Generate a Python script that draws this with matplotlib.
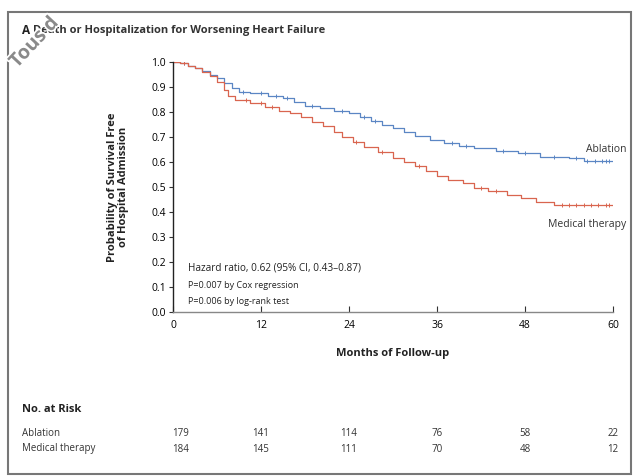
import matplotlib
matplotlib.use("Agg")
import matplotlib.pyplot as plt
import matplotlib.patheffects as pe
from matplotlib.patches import Rectangle
import numpy as np

plt.rcParams['font.family'] = ['Open Sans', 'DejaVu Sans']

# Kaplan-Meier step data (months, probability)
abl_t = [0, 1, 2, 3, 4, 5, 6, 7, 8, 9, 10.5, 13, 15, 16.5, 18, 20, 22, 24, 25.5, 27,
         28.5, 30, 31.5, 33, 35, 37, 39, 41, 44, 47, 50, 54, 56, 60]
abl_s = [1.0, 0.995, 0.985, 0.975, 0.965, 0.95, 0.935, 0.915, 0.895, 0.88, 0.875, 0.865,
         0.855, 0.84, 0.825, 0.815, 0.805, 0.795, 0.78, 0.765, 0.75, 0.735, 0.72, 0.705,
         0.69, 0.675, 0.665, 0.655, 0.645, 0.635, 0.62, 0.615, 0.605, 0.605]
med_t = [0, 1, 2, 3, 4, 5, 6, 7, 7.5, 8.5, 10.5, 12.5, 14.5, 16, 17.5, 19, 20.5, 22, 23,
         24.5, 26, 28, 30, 31.5, 33, 34.5, 36, 37.5, 39.5, 41, 43, 45.5, 47.5, 49.5, 52, 60]
med_s = [1.0, 0.995, 0.985, 0.975, 0.96, 0.945, 0.92, 0.89, 0.865, 0.85, 0.835, 0.82,
         0.805, 0.795, 0.78, 0.76, 0.745, 0.72, 0.70, 0.68, 0.66, 0.64, 0.615, 0.60, 0.585,
         0.565, 0.545, 0.53, 0.515, 0.495, 0.485, 0.47, 0.455, 0.44, 0.43, 0.43]

# censoring marks (months)
abl_cens = [1.5, 9.5, 12, 14, 15.5, 19, 23, 26, 27.5, 38, 40, 45, 48, 52, 55, 56.5, 57.5, 58.5, 59, 59.5]
med_cens = [1.5, 10, 12, 13.5, 25, 28.5, 33.5, 42, 44, 53, 54, 55, 56, 57, 58, 59, 59.5]

months = [0, 12, 24, 36, 48, 60]
risk_abl = [179, 141, 114, 76, 58, 22]
risk_med = [184, 145, 111, 70, 48, 12]

blue = '#5b86c4'
red = '#d9654f'

W, H = 635, 476
fig = plt.figure(figsize=(W / 100, H / 100), dpi=100)

def fx(px):
    return px / W

def fy(py):
    return 1 - py / H

ax = fig.add_axes([fx(173), fy(312), fx(613) - fx(173), fy(62) - fy(312)])

ax.step(abl_t, abl_s, where='post', color=blue, lw=0.9)
ax.step(med_t, med_s, where='post', color=red, lw=0.9)

def level(ts, ss, c):
    i = np.searchsorted(ts, c, side='right') - 1
    return ss[i]

ax.plot(abl_cens, [level(abl_t, abl_s, c) for c in abl_cens], ls='none', marker='|',
        ms=3.5, mew=0.7, color=blue)
ax.plot(med_cens, [level(med_t, med_s, c) for c in med_cens], ls='none', marker='|',
        ms=3.5, mew=0.7, color=red)

ax.set_xlim(0, 60)
ax.set_ylim(0, 1.0)
ax.set_xticks(months)
ax.set_yticks(np.arange(0, 1.01, 0.1))
ax.set_yticklabels([f"{v:.1f}" for v in np.arange(0, 1.01, 0.1)])
ax.tick_params(axis='x', direction='in', length=4, labelsize=7.5, pad=6, color='#333')
ax.tick_params(axis='y', direction='out', length=3, labelsize=7.5, pad=2, color='#333')
for s in ['top', 'right']:
    ax.spines[s].set_visible(False)
ax.spines['left'].set_linewidth(1.0)
ax.spines['bottom'].set_linewidth(1.0)
ax.spines['left'].set_color('#222')
ax.spines['bottom'].set_color('#888')

ax.set_xlabel("Months of Follow-up", fontsize=8, fontweight='bold', labelpad=12, color='#222')
ax.set_ylabel("Probability of Survival Free\nof Hospital Admission", fontsize=8,
              fontweight='bold', labelpad=16, linespacing=1.0, color='#222')

ax.text(2, 0.176, "Hazard ratio, 0.62 (95% CI, 0.43\u20130.87)", fontsize=7.2, color='#222',
        va='center')
ax.text(2, 0.108, "P=0.007 by Cox regression", fontsize=6.5, color='#222', va='center')
ax.text(2, 0.040, "P=0.006 by log-rank test", fontsize=6.5, color='#222', va='center')

fig.text(fx(626), fy(149), "Ablation", ha='right', va='center', fontsize=7.5, color='#333')
fig.text(fx(626), fy(224), "Medical therapy", ha='right', va='center', fontsize=7.5, color='#333')

fig.text(fx(22), fy(31), "A", fontsize=8.5, fontweight='bold', va='center', color='#222')
fig.text(fx(33), fy(31), "Death or Hospitalization for Worsening Heart Failure", fontsize=8,
         fontweight='bold', va='center', color='#333')

fig.text(fx(22), fy(410), "No. at Risk", fontsize=8, fontweight='bold', va='center', color='#222')
fig.text(fx(22), fy(433), "Ablation", fontsize=7, va='center', color='#333')
fig.text(fx(22), fy(449), "Medical therapy", fontsize=7, va='center', color='#333')
for m, a, b in zip(months, risk_abl, risk_med):
    xf = fx(173) + (fx(613) - fx(173)) * m / 60
    if m == 0:
        xf += fx(8)
    fig.text(xf, fy(433), str(a), ha='center', va='center', fontsize=7, color='#333')
    fig.text(xf, fy(449), str(b), ha='center', va='center', fontsize=7, color='#333')

fig.patches.append(Rectangle((fx(8), fy(474)), fx(631) - fx(8), fy(12) - fy(474),
                             transform=fig.transFigure, fill=False, edgecolor='#777',
                             lw=1.5))

# watermark in the corner
fig.text(fx(6), fy(72), "Tous d", rotation=47, fontsize=14, fontweight='bold',
         color='#8a8a8a', va='bottom', ha='left',
         path_effects=[pe.withStroke(linewidth=2.5, foreground='white')])

fig.savefig("out.png", dpi=100)
